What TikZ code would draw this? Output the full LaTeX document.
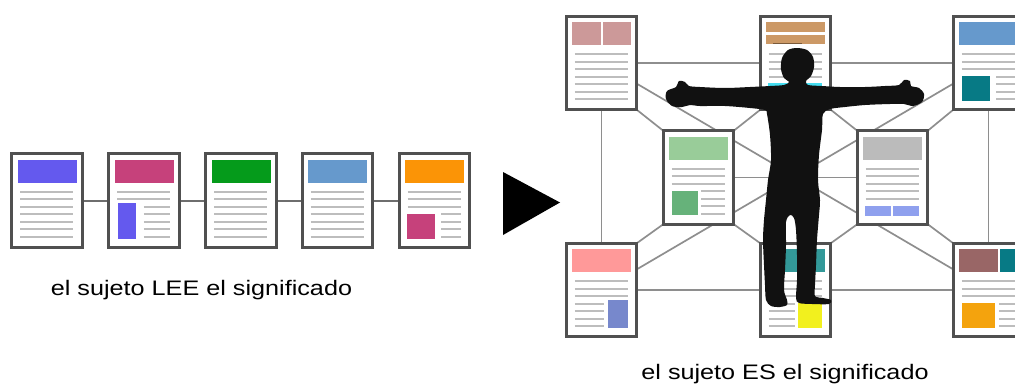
\documentclass[tikz,border=0pt]{standalone}
\usepackage{fontspec}
\setmainfont{Liberation Sans}
\usetikzlibrary{backgrounds}

\definecolor{frame}{HTML}{505050}
\definecolor{rowline}{HTML}{6E6E6E}
\definecolor{linkgray}{HTML}{8E8E8E}
\definecolor{txtgray}{HTML}{BDBDBD}
\definecolor{c_violet}{HTML}{6459EE}
\definecolor{c_magenta}{HTML}{C6417B}
\definecolor{c_green}{HTML}{059B1B}
\definecolor{c_blue}{HTML}{6699CC}
\definecolor{c_orange}{HTML}{FB9406}
\definecolor{c_rose}{HTML}{CC9999}
\definecolor{c_tan}{HTML}{CC9966}
\definecolor{c_brownline}{HTML}{7A5A3A}
\definecolor{c_cyan}{HTML}{44DDF0}
\definecolor{c_teal}{HTML}{077A85}
\definecolor{c_mint}{HTML}{99CC99}
\definecolor{c_moss}{HTML}{66B27A}
\definecolor{c_grey}{HTML}{BBBBBB}
\definecolor{c_sky}{HTML}{8FA0EE}
\definecolor{c_salmon}{HTML}{FF9999}
\definecolor{c_periwinkle}{HTML}{7788CC}
\definecolor{c_sea}{HTML}{339999}
\definecolor{c_yellow}{HTML}{F2F01E}
\definecolor{c_brown}{HTML}{996666}
\definecolor{c_amber}{HTML}{F4A30D}
\definecolor{body}{HTML}{111111}

\begin{document}
\begin{tikzpicture}[
		x=1pt, y=-1pt,
		page/.style={rectangle, draw=frame, line width=2.6pt, fill=white,
			minimum width=70.5pt, minimum height=93.5pt, inner sep=0pt, outer sep=0pt},
		row/.style={draw=rowline, line width=2pt},
		link/.style={draw=linkgray, line width=1.7pt},
		txt/.style={draw=txtgray, line width=2pt},
		caption/.style={font=\fontsize{21}{25}\selectfont, xscale=1.2, anchor=base, inner sep=0pt}
	]
  \useasboundingbox (0,0) rectangle (1015,383);
  \clip (0,0) rectangle (1015,383);

  % reading: pages in a row
  \node (p_1) [page] at (47, 200.5) {};
  \node (p_2) [page] at (144, 200.5) {};
  \node (p_3) [page] at (241, 200.5) {};
  \node (p_4) [page] at (337.5, 200.5) {};
  \node (p_5) [page] at (434.5, 200.5) {};
  \node (lee_label) [caption] at (201.5, 295) {el sujeto LEE el significado};

  % the arrow
  \fill (503,172) -- (560,202.5) -- (503,235) -- cycle;

  % being: pages in a net
  \node (n_tl) [page] at (601.5, 63) {};
  \node (n_tc) [page] at (795.5, 63) {};
  \node (n_tr) [page] at (988.5, 63) {};
  \node (n_ml) [page] at (698.5, 177.5) {};
  \node (n_mr) [page] at (892.5, 177.5) {};
  \node (n_bl) [page] at (601.5, 290) {};
  \node (n_bc) [page] at (795.5, 290) {};
  \node (n_br) [page] at (988.5, 290) {};
  \node (es_label) [caption] at (785, 379) {el sujeto ES el significado};

  \begin{pgfonlayer}{background}
    \draw[row] (p_1) -- (p_2) -- (p_3) -- (p_4) -- (p_5);
    \draw[link] (n_tl) -- (n_tc) -- (n_tr);
    \draw[link] (n_tl) -- (n_bl) -- (n_bc) -- (n_br) -- (n_tr);
    \draw[link] (n_ml) -- (n_mr);
    \draw[link] (n_tl) -- (n_br);
    \draw[link] (n_tr) -- (n_bl);
    \draw[link] (n_tl.south east) -- (n_ml.north west);
    \draw[link] (n_tc.south west) -- (n_ml.north east);
    \draw[link] (n_tc.south east) -- (n_mr.north west);
    \draw[link] (n_tr.south west) -- (n_mr.north east);
    \draw[link] (n_bl.north east) -- (n_ml.south west);
    \draw[link] (n_bc.north west) -- (n_ml.south east);
    \draw[link] (n_bc.north east) -- (n_mr.south west);
    \draw[link] (n_br.north west) -- (n_mr.south east);
  \end{pgfonlayer}

  % page contents
  \begin{scope}[shift={(p_1.north west)}]
    \fill[c_violet] (6,6) rectangle (65,29);
    \foreach \y in {38,45.5,53,60.5,68,75.5,83} \draw[txt] (8.7,\y) -- (61.7,\y);
  \end{scope}
  \begin{scope}[shift={(p_2.north west)}]
    \fill[c_magenta] (6,6) rectangle (65,29);
    \foreach \y in {38,45.5} \draw[txt] (8.7,\y) -- (61.7,\y);
    \fill[c_violet] (9,49) rectangle (27,85);
    \foreach \y in {53,60.5,68,75.5,83} \draw[txt] (35,\y) -- (61.7,\y);
  \end{scope}
  \begin{scope}[shift={(p_3.north west)}]
    \fill[c_green] (6,6) rectangle (65,29);
    \foreach \y in {38,45.5,53,60.5,68,75.5,83} \draw[txt] (8.7,\y) -- (61.7,\y);
  \end{scope}
  \begin{scope}[shift={(p_4.north west)}]
    \fill[c_blue] (6,6) rectangle (65,29);
    \foreach \y in {38,45.5,53,60.5,68,75.5,83} \draw[txt] (8.7,\y) -- (61.7,\y);
  \end{scope}
  \begin{scope}[shift={(p_5.north west)}]
    \fill[c_orange] (6,6) rectangle (65,29);
    \foreach \y in {38,45.5,53} \draw[txt] (8.7,\y) -- (61.7,\y);
    \fill[c_magenta] (8,60) rectangle (36,85);
    \foreach \y in {60.5,68,75.5,83} \draw[txt] (42,\y) -- (61.7,\y);
  \end{scope}

  \begin{scope}[shift={(n_tl.north west)}]
    \fill[c_rose] (6,6) rectangle (35,29);
    \fill[c_rose] (37,6) rectangle (65,29);
    \foreach \y in {38,45.5,53,60.5,68,75.5,83} \draw[txt] (8.7,\y) -- (61.7,\y);
  \end{scope}
  \begin{scope}[shift={(n_tc.north west)}]
    \fill[c_tan] (6,6) rectangle (65,16);
    \fill[c_tan] (6,19) rectangle (65,28);
    \draw[c_brownline, line width=1.2pt] (13,27) -- (42,27);
    \foreach \y in {38,45.5,53,60.5} \draw[txt] (8.7,\y) -- (61.7,\y);
    \fill[c_cyan] (8,67) rectangle (62,88);
  \end{scope}
  \begin{scope}[shift={(n_tr.north west)}]
    \fill[c_blue] (6,6) rectangle (65,29);
    \foreach \y in {38,45.5,53} \draw[txt] (8.7,\y) -- (61.7,\y);
    \fill[c_teal] (9,60) rectangle (37,85);
    \foreach \y in {60.5,68,75.5,83} \draw[txt] (43,\y) -- (61.7,\y);
  \end{scope}
  \begin{scope}[shift={(n_ml.north west)}]
    \fill[c_mint] (6,6) rectangle (65,29);
    \foreach \y in {38,45.5,53} \draw[txt] (8.7,\y) -- (61.7,\y);
    \fill[c_moss] (9,60) rectangle (35,84);
    \foreach \y in {60.5,68,75.5,83} \draw[txt] (38,\y) -- (61.7,\y);
  \end{scope}
  \begin{scope}[shift={(n_mr.north west)}]
    \fill[c_grey] (6,6) rectangle (65,29);
    \foreach \y in {38,45.5,53,60.5,68} \draw[txt] (8.7,\y) -- (61.7,\y);
    \fill[c_sky] (8,75) rectangle (34,85);
    \fill[c_sky] (36,75) rectangle (62,85);
  \end{scope}
  \begin{scope}[shift={(n_bl.north west)}]
    \fill[c_salmon] (6,6) rectangle (65,29);
    \foreach \y in {38,45.5,53} \draw[txt] (8.7,\y) -- (61.7,\y);
    \fill[c_periwinkle] (42,57) rectangle (62,85);
    \foreach \y in {60.5,68,75.5,83} \draw[txt] (8.7,\y) -- (38,\y);
  \end{scope}
  \begin{scope}[shift={(n_bc.north west)}]
    \fill[c_sea] (6,6) rectangle (65,29);
    \foreach \y in {38,45.5,53} \draw[txt] (8.7,\y) -- (61.7,\y);
    \fill[c_yellow] (38,60) rectangle (62,85);
    \foreach \y in {60.5,68,75.5,83} \draw[txt] (8.7,\y) -- (35,\y);
  \end{scope}
  \begin{scope}[shift={(n_br.north west)}]
    \fill[c_brown] (6,6) rectangle (45,29);
    \fill[c_teal] (47,6) rectangle (65,29);
    \foreach \y in {38,45.5,53} \draw[txt] (8.7,\y) -- (61.7,\y);
    \fill[c_amber] (9,60) rectangle (42,85);
    \foreach \y in {60.5,68,75.5,83} \draw[txt] (46,\y) -- (61.7,\y);
  \end{scope}

  % the figure standing in the net
  \fill[body] plot[smooth cycle, tension=0.5] coordinates {
    (797,48) (807,50) (813,57) (814,67) (811,76) (806,81)
    (808,85) (822,86)
    (840,87) (865,87) (885,86) (899,85)
    (904,80) (910,81) (911,86) (919,88) (924,94) (922,102) (913,106) (904,104)
    (890,104) (865,105) (845,107) (830,109)
    (823,114)
    (822,130) (819,155) (818,180) (820,200) (819,215)
    (817,240) (816,265) (815,285) (815,296)
    (823,298) (831,300) (829,304) (812,304) (799,303) (796,298)
    (797,280) (797,255) (796,230) (794,218)
    (790,215)
    (786,222) (786,245) (785,270) (784,290) (787,300) (787,305)
    (780,307) (771,306) (766,300)
    (765,285) (764,265) (763,240) (764,220)
    (766,200) (768,180) (771,160) (770,135) (767,114)
    (765,110)
    (750,108) (725,106) (700,106) (690,105)
    (682,107) (672,106) (666,99) (667,91) (676,87) (679,81) (685,82) (689,86)
    (700,87) (725,88) (750,87) (770,86)
    (784,85) (789,82)
    (784,78) (781,69) (782,58) (788,50)
  };
\end{tikzpicture}
\end{document}
